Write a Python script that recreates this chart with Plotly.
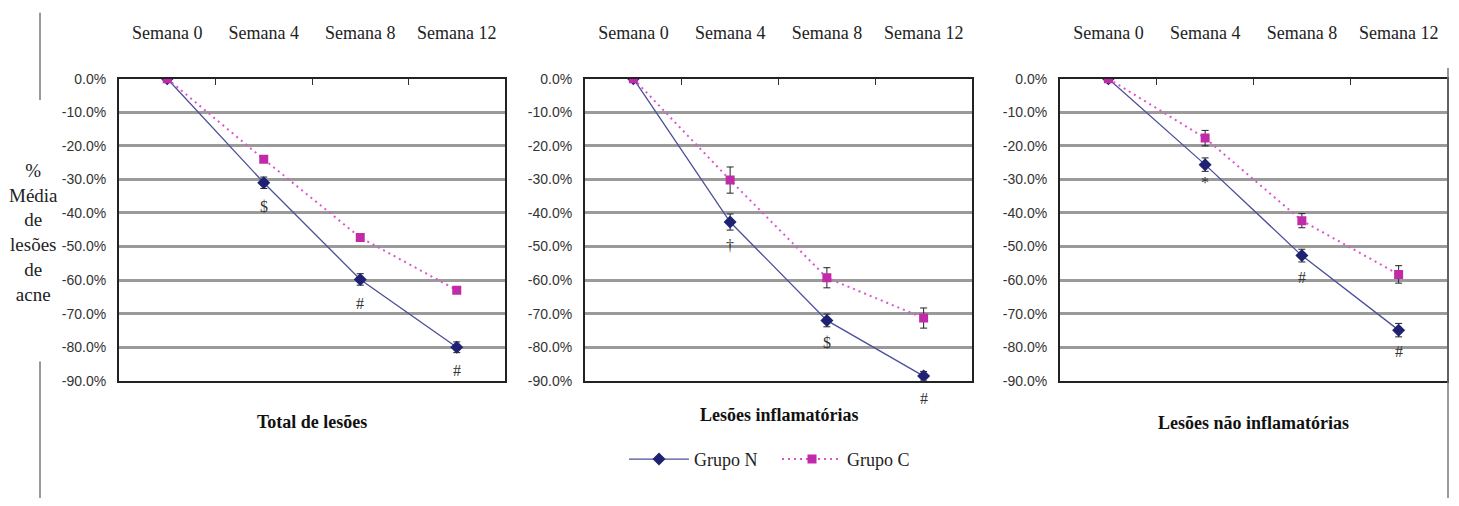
import plotly.graph_objects as go

W, H = 1459, 506

weeks = ["Semana 0", "Semana 4", "Semana 8", "Semana 12"]
panel_titles = ["Total de lesões", "Lesões inflamatórias", "Lesões não inflamatórias"]

# Grupo N (mean % change) and error
n_total = [0.0, -31.0, -59.8, -80.0]
n_total_err = [0.0, 1.7, 1.7, 1.6]
n_infl = [0.0, -42.7, -72.0, -88.6]
n_infl_err = [0.0, 2.4, 1.9, 1.4]
n_noninfl = [0.0, -25.6, -52.7, -74.9]
n_noninfl_err = [0.0, 2.0, 1.9, 2.0]

# Grupo C
c_total = [0.0, -24.0, -47.3, -63.0]
c_total_err = [0.0, 0.8, 0.8, 0.8]
c_infl = [0.0, -30.2, -59.3, -71.3]
c_infl_err = [0.0, 3.9, 3.0, 3.0]
c_noninfl = [0.0, -17.7, -42.3, -58.3]
c_noninfl_err = [0.0, 2.3, 2.1, 2.6]

# significance symbols: (symbol, week index, y value)
sig_total = [("$", 1, -38.0), ("#", 2, -67.0), ("#", 3, -86.8)]
sig_infl = [("†", 1, -49.8), ("$", 2, -78.6), ("#", 3, -95.0)]
sig_noninfl = [("*", 1, -31.0), ("#", 2, -59.3), ("#", 3, -81.3)]

y_ticks = [0, -10, -20, -30, -40, -50, -60, -70, -80, -90]
Y_MIN, Y_MAX = -90, 0

N_LINE = "#4c5098"
N_MARK = "#1f2272"
C_LINE = "#dd55cc"
C_MARK = "#c12aa8"
SERIF = "Liberation Serif, Times New Roman, serif"
SANS = "Liberation Sans, Arial, sans-serif"

panels = [
    (n_total, n_total_err, c_total, c_total_err, sig_total),
    (n_infl, n_infl_err, c_infl, c_infl_err, sig_infl),
    (n_noninfl, n_noninfl_err, c_noninfl, c_noninfl_err, sig_noninfl),
]
px_x = [(119, 505), (585, 972), (1060, 1447)]
px_top, px_bot = 73, 385
px_per_unit = (px_bot - px_top) / (Y_MAX - Y_MIN)
title_y = [428, 420, 429]

fig = go.Figure()
annotations = []
for i, (nv, ne, cv, ce, sig) in enumerate(panels):
    k = "" if i == 0 else str(i + 1)
    xa, ya = "x" + k, "y" + k
    fig.add_trace(go.Scatter(
        x=weeks, y=nv, xaxis=xa, yaxis=ya, name="Grupo N", legendgroup="N",
        showlegend=(i == 1), mode="lines+markers",
        line=dict(color=N_LINE, width=1.3),
        marker=dict(symbol="diamond", size=10, color=N_MARK),
        error_y=dict(type="data", array=ne, color="#222222", thickness=1, width=3.5),
    ))
    fig.add_trace(go.Scatter(
        x=weeks, y=cv, xaxis=xa, yaxis=ya, name="Grupo C", legendgroup="C",
        showlegend=(i == 1), mode="lines+markers",
        line=dict(color=C_LINE, width=2, dash="2px,4px"),
        marker=dict(symbol="square", size=9, color=C_MARK),
        error_y=dict(type="data", array=ce, color="#222222", thickness=1, width=3.5),
    ))
    x0, x1 = px_x[i]
    fig.layout["xaxis" + k] = dict(
        domain=[x0 / W, x1 / W], anchor=ya, side="top", type="category",
        range=[-0.5, 3.5], tickson="boundaries", ticks="inside", ticklen=6,
        tickcolor="#333333", showgrid=False, showline=True, linecolor="#222222",
        linewidth=2, mirror=True, ticklabelstandoff=30,
        tickfont=dict(family=SERIF, size=18, color="#222222"),
        fixedrange=True,
    )
    fig.layout["yaxis" + k] = dict(
        domain=[1 - px_bot / H, 1 - px_top / H], anchor=xa, range=[Y_MIN, Y_MAX],
        tickvals=y_ticks, ticktext=[f"{v:.1f}%" for v in y_ticks],
        showgrid=True, gridcolor="#9a9a9a", gridwidth=2.5, zeroline=False,
        showline=True, linecolor="#222222", linewidth=2, mirror=True,
        ticks="", ticklabelstandoff=8,
        tickfont=dict(family=SANS, size=14, color="#333333"),
        fixedrange=True,
    )
    for sym, wi, yv in sig:
        yy = max(yv, Y_MIN)
        annotations.append(dict(
            x=weeks[wi], y=yy, xref=xa, yref=ya, text=sym, showarrow=False,
            xanchor="center", yanchor="middle",
            yshift=(yv - yy) * px_per_unit,
            font=dict(family=SERIF, size=16, color="#333333"),
        ))
    annotations.append(dict(
        x=(x0 + x1) / 2 / W, y=1 - title_y[i] / H, xref="paper", yref="paper",
        xanchor="center", yanchor="middle",
        text="<b>" + panel_titles[i] + "</b>", showarrow=False,
        font=dict(family=SERIF, size=18, color="#111111"),
    ))

annotations.append(dict(
    x=33 / W, y=1 - 232 / H, xref="paper", yref="paper",
    xanchor="center", yanchor="middle",
    text="%<br>Média<br>de<br>lesões<br>de<br>acne", showarrow=False,
    align="center", font=dict(family=SERIF, size=19, color="#222222"),
))

shapes = [
    dict(type="line", xref="paper", yref="paper", x0=40 / W, x1=40 / W,
         y0=1 - 5 / H, y1=1 - 95 / H, line=dict(color="#777777", width=1.5)),
    dict(type="line", xref="paper", yref="paper", x0=40 / W, x1=40 / W,
         y0=1 - 365 / H, y1=0, line=dict(color="#777777", width=1.5)),
    dict(type="line", xref="paper", yref="paper", x0=1448 / W, x1=1448 / W,
         y0=1 - 62 / H, y1=0, line=dict(color="#777777", width=1.5)),
]

fig.update_layout(
    width=W, height=H, margin=dict(l=0, r=0, t=0, b=0),
    paper_bgcolor="white", plot_bgcolor="white",
    annotations=annotations, shapes=shapes,
    showlegend=True,
    legend=dict(orientation="h", x=624 / W, y=1 - 447 / H, xanchor="left",
                yanchor="top", font=dict(family=SERIF, size=18, color="#222222"),
                bgcolor="rgba(0,0,0,0)", itemwidth=60, tracegroupgap=0,
                entrywidth=78, entrywidthmode="pixels"),
)

fig.write_html("out.html")
